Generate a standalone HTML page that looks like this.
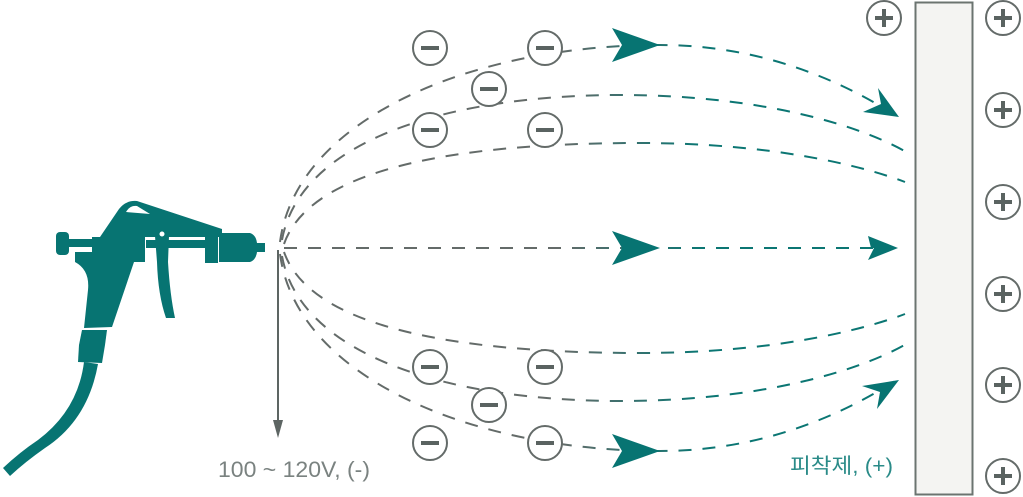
<!DOCTYPE html>
<html><head><meta charset="utf-8"><style>
html,body{margin:0;padding:0;background:#fff;}
svg{display:block;}
</style></head><body>
<svg width="1023" height="497" viewBox="0 0 1023 497" xmlns="http://www.w3.org/2000/svg">
<defs>
<linearGradient id="g" gradientUnits="userSpaceOnUse" x1="560" y1="0" x2="700" y2="0">
<stop offset="0" stop-color="#646b69"/><stop offset="1" stop-color="#0b7673"/>
</linearGradient>
</defs>
<rect x="915.5" y="2.5" width="57" height="492" fill="#f4f4f2" stroke="#6b7470" stroke-width="2"/>
<g fill="none" stroke="url(#g)" stroke-width="2" stroke-dasharray="13 11">
<path d="M280,242 C296,120 470,45 660,45 C760,45 840,80 895,115"/>
<path d="M282,240 C300,140 450,95 620,95 C760,95 860,125 908,153"/>
<path d="M284,244 C310,170 450,143 640,143 C770,143 860,165 905,182"/>
<path d="M280,254 C296,376 470,451 660,451 C760,451 840,416 895,381"/>
<path d="M282,256 C300,356 450,401 620,401 C760,401 860,371 908,343"/>
<path d="M284,252 C310,326 450,353 640,353 C770,353 860,331 905,314"/>
<path d="M284,248 L895,248"/>
</g>
<g fill="#077472">
<path d="M612,28 L660,45 L612,62 L622,45 Z"/>
<path d="M612,231 L660,248 L612,265 L622,248 Z"/>
<path d="M612,434 L660,451 L612,468 L622,451 Z"/>
<path d="M871,248 L898,248 L868,260 L874,248 Z M868,236 L898,248 L871,248 Z"/>
<path d="M878,88 L899,117 L863,112 L881,104 Z"/>
<path d="M862,386 L899,380 L877,409 L880,392 Z"/>
</g>
<line x1="278" y1="250" x2="278" y2="425" stroke="#5d6563" stroke-width="2"/>
<path d="M273,420 L283,420 L278,438 Z" fill="#5d6563"/>
<g stroke="#646b69" stroke-width="2" fill="#fff">
<circle cx="430" cy="48" r="17"/><circle cx="545" cy="48" r="17"/><circle cx="489" cy="89" r="17"/>
<circle cx="430" cy="130" r="17"/><circle cx="545" cy="130" r="17"/>
<circle cx="430" cy="367" r="17"/><circle cx="545" cy="367" r="17"/><circle cx="489" cy="405" r="17"/>
<circle cx="430" cy="443" r="17"/><circle cx="545" cy="443" r="17"/>
</g>
<g fill="#5a6361">
<rect x="421" y="46" width="18" height="4"/><rect x="536" y="46" width="18" height="4"/><rect x="480" y="87" width="18" height="4"/>
<rect x="421" y="128" width="18" height="4"/><rect x="536" y="128" width="18" height="4"/>
<rect x="421" y="365" width="18" height="4"/><rect x="536" y="365" width="18" height="4"/><rect x="480" y="403" width="18" height="4"/>
<rect x="421" y="441" width="18" height="4"/><rect x="536" y="441" width="18" height="4"/>
</g>
<g stroke="#646b69" stroke-width="2" fill="#fff">
<circle cx="884" cy="18" r="17"/>
<circle cx="1003" cy="18" r="17"/><circle cx="1003" cy="110" r="17"/><circle cx="1003" cy="202" r="17"/>
<circle cx="1003" cy="294" r="17"/><circle cx="1003" cy="385" r="17"/><circle cx="1003" cy="476" r="17"/>
</g>
<g stroke="#5a6361" stroke-width="4">
<path d="M875,18h18M884,9v18"/>
<path d="M994,18h18M1003,9v18"/><path d="M994,110h18M1003,101v18"/><path d="M994,202h18M1003,193v18"/>
<path d="M994,294h18M1003,285v18"/><path d="M994,385h18M1003,376v18"/><path d="M994,476h18M1003,467v18"/>
</g>
<g fill="#077472">
<rect x="56" y="232" width="13" height="23" rx="4"/>
<rect x="66" y="239" width="28" height="8"/>
<path d="M75,252 L92,252 L92,237 L100,237 L119,209 Q126,200 137,201 L222,229 L222,237 L152,237 L145,237 L145,262 L134,262 L112,327 L84,328 L88,290 Q90,270 75,262 Z"/>
<rect x="146" y="240" width="60" height="8"/>
<rect x="205" y="230" width="13" height="33"/>
<path d="M219,233 L250,233 Q256,235 257,243 L265,243 L265,252 L257,252 Q256,260 250,262 L219,262 Z"/>
<path d="M155,236 Q162,226 169,236 L168,262 Q170,295 175,318 L166,318 Q158,295 157,262 Z"/>
<path d="M82,330 L107,330 L105,345 L102,363 L78,362 L79,345 Z"/>
<path d="M84,362 L98,364 Q88,420 45,448 Q25,462 10,476 L3,468 Q20,452 38,440 Q78,410 84,362 Z"/>
</g>
<circle cx="162" cy="234" r="2.5" fill="#fff"/>
<path d="M126,212 Q130,205 137,206 L150,214 Z" fill="#fff"/>
<text x="218" y="477" font-family="Liberation Sans, sans-serif" font-size="22" fill="#7a8280" textLength="152" lengthAdjust="spacingAndGlyphs">100 ~ 120V, (-)</text>
<text x="790" y="473" font-family="Liberation Sans, 'Noto Sans CJK KR', sans-serif" font-size="21" fill="#2a8b88" textLength="103" lengthAdjust="spacingAndGlyphs">피착제, (+)</text>
</svg>
</body></html>
